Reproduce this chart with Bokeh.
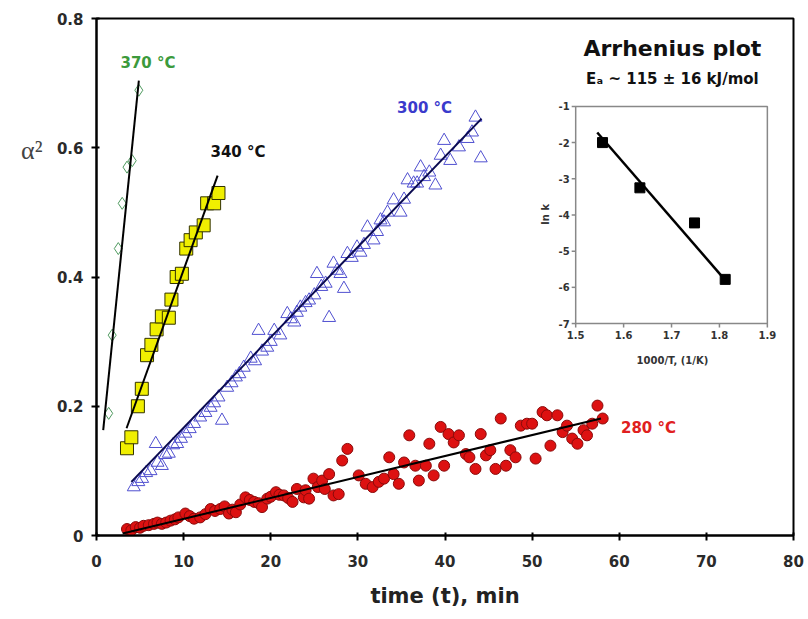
import numpy as np
from bokeh.plotting import figure
from bokeh.models import (Range1d, FixedTicker, NumeralTickFormatter, Label, LinearAxis,
                          CustomJSTickFormatter)
from bokeh.embed import file_html
from bokeh.resources import INLINE
from bokeh.core.properties import value

FONT = "DejaVu Sans"

# ---------------- data ----------------
x_ticks = [0, 10, 20, 30, 40, 50, 60, 70, 80]
y_ticks = [0, 0.2, 0.4, 0.6, 0.8]

t370 = [1.4, 1.8, 2.5, 2.95, 3.5, 4.1, 4.86]
a370 = [0.189, 0.31, 0.444, 0.514, 0.57, 0.58, 0.689]
fit370_t = [0.77, 4.86]
fit370_a = [0.163, 0.704]

t340 = [3.5, 4.0, 4.75, 5.2, 5.8, 6.3, 6.9, 7.5, 8.3, 8.6, 9.2, 9.8, 10.3, 10.8, 11.4, 12.3, 12.7, 13.5, 14.0]
a340 = [0.135, 0.152, 0.20, 0.227, 0.279, 0.295, 0.319, 0.339, 0.337, 0.365, 0.40, 0.405, 0.444, 0.457, 0.469, 0.48, 0.514, 0.514, 0.53]
fit340_t = [3.45, 13.9]
fit340_a = [0.166, 0.557]

t300 = [4.28, 4.8, 5.24, 5.7, 6.2, 6.8, 7.0, 7.5, 7.9, 8.3, 8.8, 9.26, 9.7, 10.2, 10.7, 11.2, 11.9, 12.5, 13.1, 13.5,
        14.0, 14.4, 15.0, 15.5, 16.0, 16.4, 16.9, 17.7, 18.2, 18.6, 19.0, 19.6, 20.0, 20.4, 21.1, 21.9, 22.3, 22.7, 23.0, 23.4,
        24.0, 24.4, 25.0, 25.3, 25.8, 26.3, 26.7, 27.2, 27.6, 28.0, 28.4, 28.8, 29.3, 29.9, 30.3, 30.7, 31.1, 31.8, 32.2, 32.6,
        33.0, 33.4, 34.1, 34.9, 35.3, 35.7, 36.4, 36.8, 37.2, 37.6, 38.2, 38.9, 39.5, 39.9, 40.6, 41.6, 42.6, 43.1, 43.5, 44.1]
a300 = [0.075, 0.083, 0.088, 0.097, 0.10, 0.142, 0.113, 0.108, 0.125, 0.127, 0.14, 0.142, 0.15, 0.158, 0.165, 0.173, 0.183, 0.19, 0.198, 0.205,
        0.214, 0.178, 0.229, 0.236, 0.245, 0.25, 0.26, 0.274, 0.27, 0.317, 0.285, 0.291, 0.30, 0.317, 0.31, 0.343, 0.335, 0.33, 0.345, 0.353,
        0.36, 0.364, 0.372, 0.405, 0.385, 0.39, 0.337, 0.421, 0.41, 0.405, 0.382, 0.436, 0.43, 0.446, 0.438, 0.45, 0.477, 0.457, 0.47, 0.488,
        0.485, 0.5, 0.519, 0.5, 0.52, 0.55, 0.545, 0.545, 0.57, 0.555, 0.562, 0.542, 0.588, 0.611, 0.58, 0.601, 0.614, 0.624, 0.647, 0.584]
fit300_t = [4.0, 44.2]
fit300_a = [0.083, 0.645]

t280 = [3.5, 4.0, 4.5, 5.0, 5.4, 6.0, 6.6, 7.0, 7.5, 8.0,
        8.5, 9.0, 9.4, 10.2, 10.7, 11.2, 11.9, 12.5, 13.1, 13.6,
        14.2, 14.7, 15.2, 15.6, 16.0, 16.5, 17.1, 17.6, 18.1, 18.6,
        19.0, 19.6, 20.0, 20.6, 21.0, 21.5, 22.0, 22.5, 23.0, 23.8,
        24.0, 24.4, 24.9, 25.4, 25.9, 26.2, 26.7, 27.2, 27.8, 28.2,
        28.8, 30.1, 30.9, 31.7, 32.4, 33.0, 33.6, 34.1, 34.7, 35.3,
        35.9, 36.6, 37.0, 37.8, 38.2, 38.7, 39.5, 39.9, 40.4, 41.0,
        41.6, 42.4, 42.8, 43.5, 44.1, 44.7, 45.2, 45.8, 46.4, 47.0,
        47.5, 48.1, 48.7, 49.4, 50.0, 50.4, 51.2, 51.7, 52.1, 52.9,
        53.5, 54.0, 54.6, 55.2, 55.9, 56.3, 56.9, 57.5, 58.1]
a280 = [0.010, 0.008, 0.013, 0.012, 0.015, 0.016, 0.018, 0.02, 0.018, 0.02,
        0.023, 0.025, 0.028, 0.034, 0.03, 0.026, 0.028, 0.033, 0.041, 0.038,
        0.041, 0.045, 0.034, 0.04, 0.036, 0.048, 0.059, 0.055, 0.052, 0.05,
        0.044, 0.057, 0.06, 0.067, 0.063, 0.062, 0.058, 0.052, 0.072, 0.059,
        0.07, 0.057, 0.088, 0.075, 0.085, 0.072, 0.095, 0.062, 0.064, 0.116,
        0.134, 0.093, 0.08, 0.075, 0.083, 0.088, 0.121, 0.095, 0.08, 0.113,
        0.155, 0.108, 0.085, 0.108, 0.142, 0.093, 0.168, 0.108, 0.157, 0.144,
        0.155, 0.126, 0.121, 0.103, 0.157, 0.124, 0.132, 0.103, 0.181, 0.108,
        0.132, 0.121, 0.170, 0.173, 0.173, 0.119, 0.191, 0.186, 0.139, 0.186,
        0.16, 0.170, 0.15, 0.142, 0.163, 0.155, 0.173, 0.201, 0.181]
fit280_t = [3.0, 57.9]
fit280_a = [0.003, 0.181]

# inset (Arrhenius plot)
inset_xticks = [1.5, 1.6, 1.7, 1.8, 1.9]
inset_xlabels = ["1.5", "1.6", "1.7", "1.8", "1.9"]
inset_yticks = [-1, -2, -3, -4, -5, -6, -7]
inset_ylabels = ["-1", "-2", "-3", "-4", "-5", "-6", "-7"]
inv_T = [1.556, 1.634, 1.748, 1.812]
ln_k = [-2.0, -3.25, -4.22, -5.78]
fit_inv_T = [1.545, 1.812]
fit_ln_k = [-1.72, -5.8]

# ---------------- figure ----------------
p = figure(width=808, height=619, x_range=Range1d(0, 80), y_range=Range1d(0, 0.8),
           output_backend="svg", toolbar_location=None,
           min_border_left=96, min_border_right=15, min_border_top=18, min_border_bottom=84)
p.background_fill_color = "white"
p.border_fill_color = "white"
p.outline_line_color = "black"
p.outline_line_width = 2
p.xgrid.visible = False
p.ygrid.visible = False

for ax in (p.xaxis, p.yaxis):
    ax.axis_line_width = 2
    ax.axis_line_color = "black"
    ax.major_tick_line_width = 2
    ax.major_tick_line_color = "black"
    ax.major_tick_in = 3
    ax.major_tick_out = 5
    ax.minor_tick_line_color = None
    ax.major_label_text_font = FONT
    ax.major_label_text_font_size = "15px"
    ax.major_label_text_font_style = "bold"
    ax.major_label_text_color = "#2a2a2a"

p.xaxis.ticker = FixedTicker(ticks=x_ticks)
p.yaxis.ticker = FixedTicker(ticks=y_ticks)
p.yaxis.formatter = NumeralTickFormatter(format="0.[0]")
p.xaxis.major_label_standoff = 14
p.yaxis.major_label_standoff = 8
p.xaxis.axis_label = "time (t), min"
p.xaxis.axis_label_text_font = FONT
p.xaxis.axis_label_text_font_size = "21px"
p.xaxis.axis_label_text_font_style = "bold"
p.xaxis.axis_label_text_color = "#222222"
p.xaxis.axis_label_standoff = 14

# horizontal y-axis title (alpha squared), drawn as an outer left axis with one labelled position
ylabel_axis = LinearAxis(ticker=FixedTicker(ticks=[0.596]),
                         formatter=CustomJSTickFormatter(code="return '\\u03b1\\u00b2';"),
                         axis_line_color=None, major_tick_line_color=None, minor_tick_line_color=None,
                         major_label_text_font="Liberation Serif", major_label_text_font_size="26px",
                         major_label_text_color="#444444", major_label_standoff=5)
p.add_layout(ylabel_axis, "left")

# series
p.scatter(t280, a280, marker="circle", size=11, fill_color="#dd1111", line_color="#8a0a0a", line_width=1)
p.line(fit280_t, fit280_a, line_color="black", line_width=2)

p.scatter(t300, a300, marker="triangle", size=13, fill_color=None, line_color="#5050d0", line_width=1)
p.line(fit300_t, fit300_a, line_color="#0a0a50", line_width=2)

p.scatter(t340, a340, marker="square", size=13, fill_color="#f0ef00", line_color="#333300", line_width=1)
p.line(fit340_t, fit340_a, line_color="black", line_width=2)

p.scatter(t370, a370, marker="diamond", size=12, fill_color=None, line_color="#4f9a5f", line_width=1)
p.line(fit370_t, fit370_a, line_color="black", line_width=2)

def lab(x, y, text, color, size="15px", align="left", style="bold", font=FONT, angle=0):
    p.add_layout(Label(x=x, y=y, text=text, text_color=color, text_font_size=size,
                       text_font_style=style, text_font=font, text_align=align,
                       text_baseline="middle", angle=angle))

lab(2.75, 0.731, "370 °C", "#3c9a3c")
lab(13.08, 0.593, "340 °C", "#111111")
lab(34.5, 0.661, "300 °C", "#3a3acc")
lab(60.2, 0.167, "280 °C", "#e02020")

# inset
sub = p.subplot(x_source=Range1d(1.5, 1.9), y_source=Range1d(-7, -1),
                x_target=Range1d(55.0, 77.0), y_target=Range1d(0.328, 0.664))
sub.quad(left=[min(inset_xticks)], right=[max(inset_xticks)],
         bottom=[min(inset_yticks)], top=[max(inset_yticks)],
         fill_color="white", line_color="#888888", line_width=1.5)
sub.ray(x=[min(inset_xticks)] * len(inset_yticks), y=inset_yticks, length=4, length_units="screen",
        angle=np.pi, line_color="#888888", line_width=1.5)
sub.ray(x=inset_xticks, y=[min(inset_yticks)] * len(inset_xticks), length=4, length_units="screen",
        angle=-np.pi / 2, line_color="#888888", line_width=1.5)
sub.text(x=[min(inset_xticks)] * len(inset_yticks), y=inset_yticks, text=inset_ylabels, x_offset=-6,
         text_align="right", text_baseline="middle", text_font=value(FONT), text_font_size="10px",
         text_font_style="bold", text_color="#333333")
sub.text(x=inset_xticks, y=[min(inset_yticks)] * len(inset_xticks), text=inset_xlabels, y_offset=7,
         text_align="center", text_baseline="top", text_font=value(FONT), text_font_size="10px",
         text_font_style="bold", text_color="#333333")
sub.line(fit_inv_T, fit_ln_k, line_color="black", line_width=2.5)
sub.scatter(inv_T, ln_k, marker="square", size=10, fill_color="black", line_color="black")

lab(51.5, 0.497, "ln k", "#333333", size="10px", align="center", angle=np.pi / 2)
lab(66.1, 0.271, "1000/T, (1/K)", "#333333", size="10px", align="center")
lab(66.1, 0.7535, "Arrhenius plot", "#111111", size="22px", align="center")
lab(66.1, 0.7068, "Eₐ ~ 115 ± 16 kJ/mol", "#111111", size="15px", align="center")

open("out.html", "w").write(file_html(p, INLINE))
